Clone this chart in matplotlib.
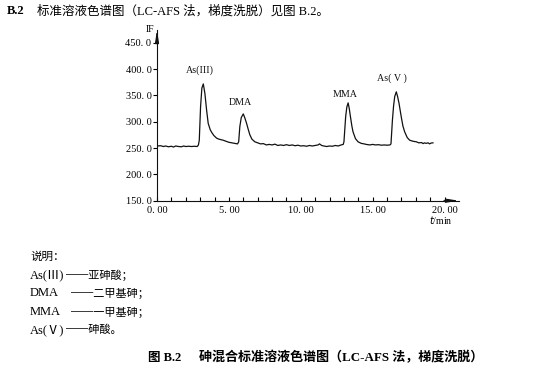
import matplotlib
matplotlib.use("Agg")
import matplotlib.pyplot as plt

# ---------------- data ----------------
time_min = [0.0, 0.25, 0.45, 0.6, 0.8, 1.0, 1.15, 1.3, 1.5, 1.7, 1.85, 2.0, 2.2, 2.4, 2.6, 2.8,
            2.88, 2.94, 3.03, 3.12, 3.22, 3.33, 3.45, 3.56, 3.7, 3.8, 3.95, 4.14, 4.3, 4.45, 4.6,
            4.8, 5.0, 5.2, 5.4, 5.6, 5.68, 5.76, 5.86, 6.0, 6.1, 6.23, 6.35, 6.46, 6.6, 6.8, 7.0,
            7.2, 7.4, 7.6, 7.8, 8.0, 8.2, 8.4, 8.6, 8.8, 9.0, 9.2, 9.4, 9.6, 9.8, 10.0, 10.2, 10.4,
            10.6, 10.8, 11.0, 11.2, 11.3, 11.45, 11.6, 11.8, 12.0, 12.2, 12.4, 12.6, 12.8, 12.95,
            13.0, 13.12, 13.2, 13.29, 13.37, 13.45, 13.55, 13.63, 13.8, 13.98, 14.2, 14.4, 14.55,
            14.8, 15.0, 15.2, 15.4, 15.6, 15.8, 16.0, 16.2, 16.27, 16.37, 16.45, 16.53, 16.64,
            16.73, 16.83, 16.92, 17.0, 17.1, 17.22, 17.4, 17.57, 17.8, 18.03, 18.2, 18.4, 18.5,
            18.6, 18.7, 18.85, 18.95, 19.05, 19.19]
signal_if = [254, 254.5, 253, 254, 252.5, 253.5, 252, 254, 253, 252.5, 254, 253, 253.5, 253, 253.5, 253,
             256, 265, 329, 364, 372, 354, 322, 297, 285, 280, 274, 269, 267, 266, 265,
             263, 261, 260, 259, 258, 262, 291, 308, 315, 308, 297, 285, 275, 267, 262, 260,
             258, 258.5, 256, 257, 256, 257.5, 255, 256, 255, 256.5, 255, 256, 254.5, 255.5, 254, 254.5, 253.5,
             255, 254, 255, 256, 258, 255, 254, 253, 254, 253.5, 255, 254, 256, 257,
             262, 310, 328, 336, 325, 310, 292, 281, 268, 262, 259, 258, 257,
             256, 257, 256, 256.5, 255.5, 256, 255.5, 256, 258, 303, 330, 348, 357,
             348, 335, 320, 307, 292, 281, 270, 265, 263, 262, 260, 260.5, 258.5,
             260, 259, 260, 258, 259.5, 260]

peak_names = ["As(III)", "DMA", "MMA", "As( V )"]
peak_label_t = [2.99, 5.8, 13.1, 16.37]
peak_label_v = [398, 336, 352, 383]

y_ticks = [150, 200, 250, 300, 350, 400, 450]
y_tick_labels = ["150. 0", "200. 0", "250. 0", "300. 0", "350. 0", "400. 0", "450. 0"]
x_ticks = [0, 5, 10, 15, 20]
x_tick_labels = ["0. 00", "5. 00", "10. 00", "15. 00", "20. 00"]
x_minor = list(range(0, 21))

note_labels = ["As(Ⅲ)", "DMA", "MMA", "As(Ⅴ)"]
note_texts = ["──亚砷酸；", "──二甲基砷；", "──一甲基砷；", "──砷酸。"]

# ---------------- figure ----------------
W, H = 547, 376
fig = plt.figure(figsize=(W / 100, H / 100), dpi=100)
fig.patch.set_facecolor("white")

def px(x, y):
    return x / W, 1 - y / H

left, right, bottom, top = 157 / W, 459 / W, 1 - 200.7 / H, 1 - 30 / H
ax = fig.add_axes([left, bottom, right - left, top - bottom])
ax.set_xlim(0, 21)
ax.set_ylim(150, 474.5)

serif = ["Liberation Serif", "DejaVu Serif"]
mixed = ["Liberation Serif", "Noto Sans CJK SC", "DejaVu Sans"]
cjk = ["Noto Sans CJK SC", "DejaVu Sans"]

ax.plot(time_min, signal_if, color="#111111", linewidth=0.9)

for name, t, v in zip(peak_names, peak_label_t, peak_label_v):
    ax.text(t, v, name, ha="center", va="center", fontsize=7.2, family=serif, color="#111111")

for s in ["top", "right"]:
    ax.spines[s].set_visible(False)
for s in ["left", "bottom"]:
    ax.spines[s].set_linewidth(0.8)
    ax.spines[s].set_color("#111111")

ax.set_yticks(y_ticks)
ax.set_yticklabels(y_tick_labels, family=serif, fontsize=7.5)
ax.set_xticks(x_ticks)
ax.set_xticklabels(x_tick_labels, family=serif, fontsize=7.5)
ax.set_xticks(x_minor, minor=True)
ax.tick_params(axis="y", direction="out", length=3, width=0.8, pad=1)
ax.tick_params(axis="x", which="both", direction="in", length=3, width=0.8, pad=4)

# arrow heads
arrow_kw = dict(arrowstyle="-|>,head_length=0.9,head_width=0.14", color="#111111", lw=0.8,
                shrinkA=0, shrinkB=0, mutation_scale=8)
ax.annotate("", xy=(1.0, 0), xytext=(0.95, 0), xycoords="axes fraction", arrowprops=arrow_kw,
            annotation_clip=False)
ax.annotate("", xy=(0, 1.0), xytext=(0, 0.95), xycoords="axes fraction", arrowprops=arrow_kw,
            annotation_clip=False)

fig.text(*px(150, 29.5), "IF", ha="center", va="center", fontsize=7, family=serif)
fig.text(*px(441, 220), "$t$/min", ha="center", va="center", fontsize=7, family=serif)

# title line
fig.text(*px(7, 11), "B.2", ha="left", va="center", fontsize=9, family=serif, weight="bold")
fig.text(*px(37, 11), "标准溶液色谱图（LC-AFS 法，梯度洗脱）见图 B.2。", ha="left", va="center",
         fontsize=9, family=mixed)

# notes
fig.text(*px(30, 256), "说明：", ha="left", va="center", fontsize=8.3, family=cjk)
note_y = [275, 293.5, 312, 330]
dash_x = [66, 71, 71, 66]
for lab, txt, yy, dx in zip(note_labels, note_texts, note_y, dash_x):
    fig.text(*px(30, yy), lab, ha="left", va="center", fontsize=9, family=mixed)
    fig.text(*px(dx, yy), txt, ha="left", va="center", fontsize=8, family=cjk)

# caption
fig.text(*px(148, 358), "图 B.2", ha="left", va="center", fontsize=9, family=mixed, weight="bold")
fig.text(*px(199, 358), "砷混合标准溶液色谱图（LC-AFS 法，梯度洗脱）", ha="left", va="center",
         fontsize=9.4, family=mixed, weight="bold")

fig.savefig("out.png", dpi=100)
